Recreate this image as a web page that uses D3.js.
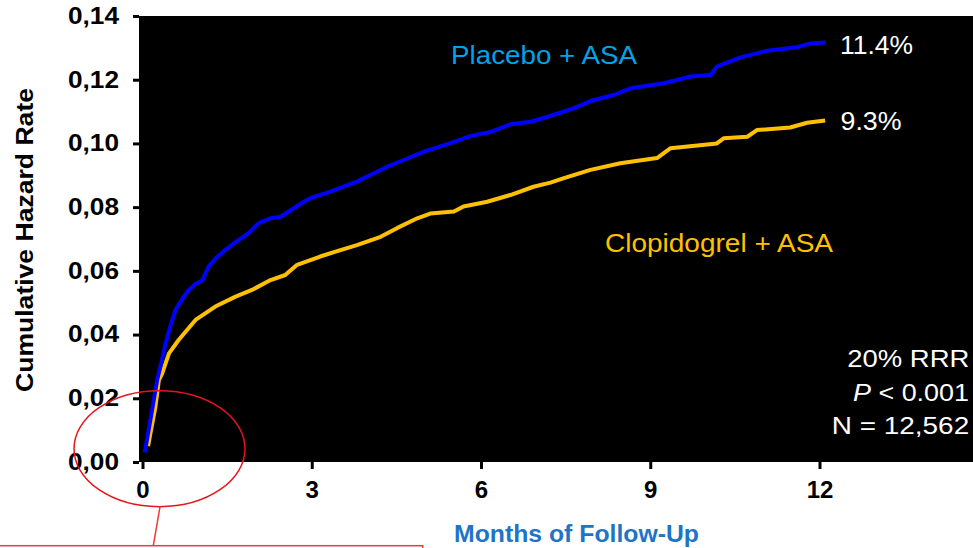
<!DOCTYPE html>
<html>
<head>
<meta charset="utf-8">
<script src="https://cdn.jsdelivr.net/npm/d3@7"></script>
<style>
  html, body { margin: 0; padding: 0; background: #fff; }
  svg { display: block; font-family: "Liberation Sans", Arial, sans-serif; }
</style>
</head>
<body>
<svg id="chart" width="973" height="548"></svg>
<script>
// ---- data ----
const placeboMonths = [0.04, 0.14, 0.20, 0.26, 0.33, 0.41, 0.5, 0.585, 0.7, 0.82, 0.95, 1.06, 1.17, 1.3, 1.47, 1.65, 1.88, 2.06, 2.27, 2.45, 2.86, 3.0, 3.33, 3.80, 4.34, 4.63, 4.99, 5.46, 5.81, 6.17, 6.52, 6.88, 7.17, 7.64, 7.94, 8.35, 8.65, 9.24, 9.71, 10.07, 10.18, 10.6, 11.07, 11.6, 11.84, 12.1];
const placeboRate = [0.003, 0.0132, 0.0195, 0.0257, 0.031, 0.0373, 0.043, 0.0477, 0.051, 0.054, 0.056, 0.057, 0.0613, 0.064, 0.0666, 0.069, 0.0718, 0.075, 0.0765, 0.077, 0.0817, 0.083, 0.0849, 0.088, 0.0927, 0.0948, 0.0974, 0.1001, 0.1023, 0.1036, 0.106, 0.1068, 0.1083, 0.111, 0.1133, 0.1152, 0.1173, 0.1189, 0.121, 0.1215, 0.1241, 0.127, 0.1291, 0.1302, 0.1314, 0.1317];
const clopiMonths = [0.1, 0.14, 0.23, 0.29, 0.35, 0.41, 0.47, 0.64, 0.94, 1.29, 1.65, 1.94, 2.27, 2.53, 2.74, 3.15, 3.45, 3.80, 4.22, 4.51, 4.87, 5.10, 5.52, 5.69, 6.11, 6.52, 6.93, 7.23, 7.47, 7.94, 8.47, 9.12, 9.36, 10.18, 10.3, 10.72, 10.89, 11.48, 11.78, 12.1];
const clopiRate = [0.005, 0.009, 0.0174, 0.0257, 0.0278, 0.031, 0.0341, 0.0383, 0.0446, 0.0488, 0.0519, 0.054, 0.0571, 0.0587, 0.0619, 0.0645, 0.0662, 0.0681, 0.0707, 0.0734, 0.0765, 0.078, 0.0786, 0.0802, 0.0817, 0.0838, 0.0864, 0.0877, 0.0891, 0.0917, 0.0938, 0.0954, 0.0985, 0.1, 0.1016, 0.1021, 0.1042, 0.105, 0.1065, 0.1072];
const xTicks = [0, 3, 6, 9, 12];
const yTicks = [0, 0.02, 0.04, 0.06, 0.08, 0.10, 0.12, 0.14];
const yTickLabels = ["0,00", "0,02", "0,04", "0,06", "0,08", "0,10", "0,12", "0,14"];
const seriesNames = ["Placebo + ASA", "Clopidogrel + ASA"];
const endLabels = ["11.4%", "9.3%"];
const statsLines = ["20% RRR", "P < 0.001", "N = 12,562"];
const xTitle = "Months of Follow-Up";
const yTitle = "Cumulative Hazard Rate";

// ---- layout ----
const svg = d3.select("#chart");
const plot = { left: 139, right: 973, top: 16, bottom: 462 };
const x = d3.scaleLinear().domain([0, 12]).range([142.5, 819.5]);
const y = d3.scaleLinear().domain([0, 0.14]).range([plot.bottom, plot.top]);

svg.append("rect")
  .attr("x", plot.left).attr("y", plot.top)
  .attr("width", plot.right - plot.left).attr("height", plot.bottom - plot.top)
  .attr("fill", "#000");

// y axis
const yAxis = svg.append("g")
  .attr("transform", `translate(${plot.left},0)`)
  .call(d3.axisLeft(y).tickValues(yTicks).tickSize(6).tickPadding(14)
    .tickFormat((d, i) => yTickLabels[i]));
yAxis.select(".domain").remove();
yAxis.selectAll(".tick line").attr("stroke", "#000").attr("stroke-width", 3);
yAxis.selectAll(".tick text")
  .attr("font-family", "'Liberation Sans', Arial, sans-serif")
  .attr("font-size", 23).attr("font-weight", "bold").attr("fill", "#000")
  .attr("textLength", 51).attr("lengthAdjust", "spacingAndGlyphs");

// x axis
const xAxis = svg.append("g")
  .attr("transform", `translate(0,${plot.bottom})`)
  .call(d3.axisBottom(x).tickValues(xTicks).tickSize(7).tickPadding(12)
    .tickFormat(d3.format("d")));
xAxis.select(".domain").remove();
xAxis.selectAll(".tick line").attr("stroke", "#000").attr("stroke-width", 3);
xAxis.selectAll(".tick text")
  .attr("font-family", "'Liberation Sans', Arial, sans-serif")
  .attr("font-size", 24).attr("font-weight", "bold").attr("fill", "#000");

// curves
const line = d3.line().x(d => x(d[0])).y(d => y(d[1])).curve(d3.curveLinear);
const clopiData = clopiMonths.map((m, i) => [m, clopiRate[i]]);
const placeboData = placeboMonths.map((m, i) => [m, placeboRate[i]]);
svg.append("path").datum(clopiData).attr("d", line)
  .attr("fill", "none").attr("stroke", "#ffc000").attr("stroke-width", 4).attr("stroke-linejoin", "round");
svg.append("path").datum(placeboData).attr("d", line)
  .attr("fill", "none").attr("stroke", "#0000ff").attr("stroke-width", 4).attr("stroke-linejoin", "round");

function fitText(sel, w) {
  return sel.attr("textLength", w).attr("lengthAdjust", "spacingAndGlyphs");
}

// series labels
fitText(svg.append("text").attr("x", 451).attr("y", 63.5).attr("font-size", 26)
  .attr("fill", "#00a2e8").text(seriesNames[0]), 186);
fitText(svg.append("text").attr("x", 605).attr("y", 251.5).attr("font-size", 26)
  .attr("fill", "#ffc000").text(seriesNames[1]), 228);
fitText(svg.append("text").attr("x", 840).attr("y", 53.5).attr("font-size", 25.5)
  .attr("fill", "#fff").text(endLabels[0]), 73);
fitText(svg.append("text").attr("x", 840.5).attr("y", 129.5).attr("font-size", 25.5)
  .attr("fill", "#fff").text(endLabels[1]), 61);

// stats block
const stats = svg.append("g").attr("fill", "#fff").attr("font-size", 24);
fitText(stats.append("text").attr("x", 847.3).attr("y", 367).text(statsLines[0]), 122);
const pLine = stats.append("text").attr("x", 853).attr("y", 400.5);
pLine.append("tspan").attr("font-style", "italic").text(statsLines[1].slice(0, 1));
pLine.append("tspan").text(statsLines[1].slice(1));
fitText(pLine, 116);
fitText(stats.append("text").attr("x", 831.7).attr("y", 433.5).text(statsLines[2]), 137.5);

// axis titles
fitText(svg.append("text").attr("x", 454).attr("y", 542)
  .attr("font-size", 23.5).attr("font-weight", "bold").attr("fill", "#1f74c6").text(xTitle), 245);
fitText(svg.append("text").attr("transform", "translate(33,392) rotate(-90)")
  .attr("font-size", 24).attr("font-weight", "bold")
  .attr("fill", "#000").text(yTitle), 304);

// red annotation
svg.append("ellipse").attr("cx", 159.5).attr("cy", 448.7).attr("rx", 85.5).attr("ry", 58)
  .attr("fill", "none").attr("stroke", "#e8141c").attr("stroke-width", 1.5);
svg.append("line").attr("x1", 160).attr("y1", 506.7).attr("x2", 153.3).attr("y2", 545.7)
  .attr("stroke", "#f03a3a").attr("stroke-width", 1.5);
svg.append("rect").attr("x", -2).attr("y", 545.7).attr("width", 424.7).attr("height", 20)
  .attr("fill", "none").attr("stroke", "#f03a3a").attr("stroke-width", 1.5);
</script>
</body>
</html>
